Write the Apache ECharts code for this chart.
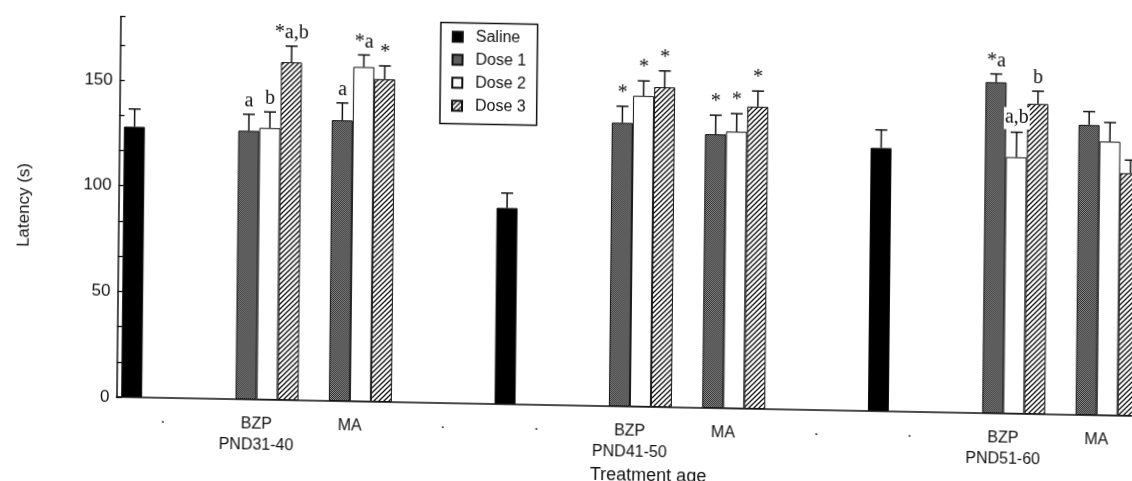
<!DOCTYPE html>
<html><head><meta charset="utf-8">
<script src="https://cdn.jsdelivr.net/npm/echarts@6/dist/echarts.min.js"></script>
<style>
html,body{margin:0;padding:0;background:#fff;overflow:hidden;}
#chart{width:1132px;height:481px;transform-origin:117px 397px;transform:matrix(1,0.0187,-0.0105,1,0,0);}
</style></head><body><div id="chart"></div>
<script>
// ---- data ----
const categories = ['·', 'BZP\nPND31-40', 'MA', '·', '·', 'BZP\nPND41-50', 'MA', '·', '·', 'BZP\nPND51-60', 'MA'];
const seriesNames = ['Saline', 'Dose 1', 'Dose 2', 'Dose 3'];
const saline    = [128.0, null, null, null, 92.9, null, null, null, 124.6, null, null];
const salineErr = [8.4, null, null, null, 7.0, null, null, null, 8.5, null, null];
const dose1     = [null, 127.1, 132.9, null, null, 134.2, 129.6, null, null, 156.7, 137.3];
const dose1Err  = [null, 7.8, 8.2, null, null, 7.8, 9.0, null, null, 3.9, 6.3];
const dose2     = [null, 128.6, 158.3, null, null, 147.1, 131.0, null, null, 121.4, 129.6];
const dose2Err  = [null, 7.6, 5.7, null, null, 7.1, 8.5, null, null, 11.8, 9.0];
const dose3     = [null, 159.9, 152.7, null, null, 151.4, 143.0, null, null, 146.8, 114.8];
const dose3Err  = [null, 7.6, 6.3, null, null, 7.7, 7.4, null, null, 6.0, 6.2];
const salineSig = ['', '', '', '', '', '', '', '', '', '', ''];
const dose1Sig  = ['', 'a', 'a', '', '', '*', '*', '', '', '*a', ''];
const dose2Sig  = ['', 'b', '*a', '', '', '*', '*', '', '', 'a,b', ''];
const dose3Sig  = ['', '*a,b', '*', '', '', '*', '*', '', '', 'b', ''];
const yTickLabels = [0, 50, 100, 150];

// ---- styles ----
const SANS = '"Liberation Sans", Arial, sans-serif';
const SERIF = '"Liberation Serif", "Times New Roman", serif';
const INK = '#111';
const BAR_W = 21;
const CAP = 6;

function makeStipple() {
  const c = document.createElement('canvas'); c.width = 2; c.height = 2;
  const g = c.getContext('2d');
  g.fillStyle = '#2e2e2e'; g.fillRect(0, 0, 2, 2);
  g.fillStyle = '#8c8c8c'; g.fillRect(0, 0, 1, 1); g.fillRect(1, 1, 1, 1);
  return c;
}
function makeHatch() {
  const c = document.createElement('canvas'); c.width = 5; c.height = 5;
  const g = c.getContext('2d');
  g.fillStyle = '#fff'; g.fillRect(0, 0, 5, 5);
  g.strokeStyle = '#111'; g.lineWidth = 1.3;
  g.beginPath();
  g.moveTo(-1, 6); g.lineTo(6, -1);
  g.moveTo(-1, 1); g.lineTo(1, -1);
  g.moveTo(4, 6); g.lineTo(6, 4);
  g.stroke();
  return c;
}
const fills = ['#000', { image: makeStipple(), repeat: 'repeat' }, '#fff', { image: makeHatch(), repeat: 'repeat' }];
const values = [saline, dose1, dose2, dose3];
const errs = [salineErr, dose1Err, dose2Err, dose3Err];
const sigs = [salineSig, dose1Sig, dose2Sig, dose3Sig];

const barSeries = seriesNames.map((name, k) => ({
  name, type: 'bar', data: values[k], barWidth: BAR_W, barGap: '0%',
  itemStyle: { color: fills[k], borderColor: INK, borderWidth: 1 },
  emphasis: { disabled: true }, z: 2
}));

const errSeries = seriesNames.map((name, k) => ({
  name: name + ' err', type: 'custom', z: 5, silent: true,
  encode: { x: 0, y: 1 },
  data: values[k].map((v, i) => v == null ? null : [i, v, errs[k][i]]).filter(Boolean),
  renderItem(params, api) {
    const i = api.value(0), v = api.value(1), e = api.value(2);
    const base = api.coord([i, v]);
    const top = api.coord([i, v + e]);
    const x = base[0] + (k - 1.5) * BAR_W;
    const ch = [
      { type: 'line', shape: { x1: x, y1: base[1], x2: x, y2: top[1] }, style: { stroke: INK, lineWidth: 1.5 } },
      { type: 'line', shape: { x1: x - CAP, y1: top[1], x2: x + CAP, y2: top[1] }, style: { stroke: INK, lineWidth: 1.5 } }
    ];
    const s = sigs[k][i];
    if (s) {
      const st = { text: s, x: x, y: top[1] - 3, align: 'center', verticalAlign: 'bottom',
        textAlign: 'center', textVerticalAlign: 'bottom', font: '20px ' + SERIF, fill: INK };
      if (s === 'a,b') { st.backgroundColor = '#fff'; st.padding = [0, 1, 2, 1]; }
      ch.push({ type: 'text', style: st });
    }
    return { type: 'group', children: ch };
  }
}));

const chart = echarts.init(document.getElementById('chart'), null, { renderer: 'canvas' });
chart.setOption({
  animation: false,
  backgroundColor: '#fff',
  grid: { left: 116.5, right: -11.4, top: 16.6, bottom: 84, containLabel: false, outerBoundsMode: 'none' },
  legend: {
    data: seriesNames, orient: 'vertical', left: 437, top: 16.5,
    icon: 'rect', itemWidth: 10, itemHeight: 10, itemGap: 7,
    padding: [6, 11, 10, 11], borderColor: INK, borderWidth: 1.5,
    selectedMode: false,
    textStyle: { fontFamily: SANS, fontSize: 16, color: INK, lineHeight: 16, padding: [0, 0, 0, 8] }
  },
  xAxis: {
    type: 'category', data: categories,
    axisLine: { lineStyle: { color: INK, width: 1.6 } },
    axisTick: { show: false },
    axisLabel: { interval: 0, fontFamily: SANS, fontSize: 16, color: INK, lineHeight: 20.5, margin: 14.5 },
    name: 'Treatment age', nameLocation: 'middle', nameGap: 57,
    nameTextStyle: { fontFamily: SANS, fontSize: 18, color: INK, padding: [0, 0, 0, 38] }
  },
  yAxis: {
    type: 'value', min: 0, max: 180, interval: 50 / 3,
    axisLine: { show: true, lineStyle: { color: INK, width: 1.5 } },
    axisTick: { show: true, inside: true, length: 5, lineStyle: { color: INK, width: 1.3 } },
    splitLine: { show: false },
    axisLabel: {
      fontFamily: SANS, fontSize: 17, color: INK, margin: 7,
      formatter: v => { const r = Math.round(v); return (Math.abs(v - r) < 0.01 && yTickLabels.includes(r)) ? String(r) : ''; }
    },
    name: 'Latency (s)', nameLocation: 'middle', nameGap: 86,
    nameTextStyle: { fontFamily: SANS, fontSize: 17, color: INK }
  },
  series: [...barSeries, ...errSeries]
});
</script></body></html>
